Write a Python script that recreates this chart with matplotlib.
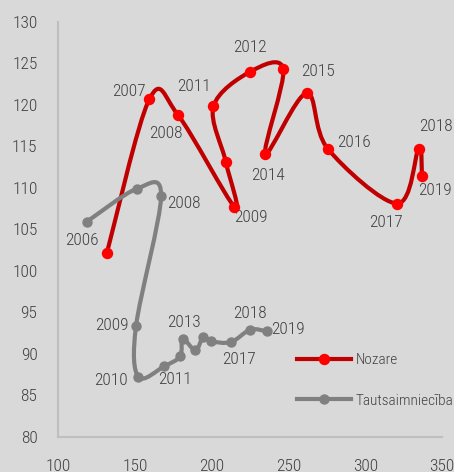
import os
import matplotlib.pyplot as plt
import matplotlib.font_manager as fm
from matplotlib.path import Path
from matplotlib.patches import PathPatch
from matplotlib.lines import Line2D

# Data
years = [2006, 2007, 2008, 2009, 2010, 2011, 2012,
         2013, 2014, 2015, 2016, 2017, 2018, 2019]

nozare_x = [131.6, 159.4, 177.9, 214.8, 209.2, 201.1, 225.2,
            246.6, 235.0, 261.8, 275.6, 320.9, 334.8, 337.0]
nozare_y = [102.1, 120.7, 118.8, 107.7, 113.1, 119.8, 124.0,
            124.3, 114.1, 121.4, 114.7, 108.1, 114.7, 111.4]

taut_x = [118.5, 151.3, 167.0, 150.7, 152.2, 169.1, 179.4,
          181.1, 189.4, 194.4, 199.6, 212.5, 225.1, 235.7]
taut_y = [105.9, 109.9, 109.0, 93.4, 87.2, 88.5, 89.7,
          91.8, 90.4, 92.0, 91.5, 91.4, 92.9, 92.7]

x_ticks = [100, 150, 200, 250, 300, 350]
y_ticks = [80, 85, 90, 95, 100, 105, 110, 115, 120, 125, 130]

# which years get a label, and where (offset in pixels)
nozare_labels = {2007: (-21, 7), 2008: (-12, -19), 2009: (16, -11),
                 2011: (-19, 20), 2012: (0, 24), 2014: (3, -22),
                 2015: (11, 22), 2016: (26, 6), 2017: (-11, -19),
                 2018: (17, 22), 2019: (13, -14)}
taut_labels = {2006: (-5, -19), 2008: (23, -7), 2009: (-24, 0),
               2010: (-27, -4), 2011: (11, -13), 2013: (1, 16),
               2017: (8, -17), 2018: (0, 16), 2019: (21, 2)}

bg = '#d9d9d9'
text_col = '#404040'


def pick_font():
    # look for a narrow / condensed sans font, the reference uses one
    wanted = ['robotocondensed-light', 'robotocondensed-regular',
              'opensanscondensed-light', 'opensans_condensed-light',
              'opensans-condensedlight', 'opensans_condensed-regular',
              'opensans-condensed', 'notosans-condensedlight',
              'notosans-condensed', 'liberationsansnarrow-regular',
              'dejavusanscondensed']
    files = {}
    for f in fm.fontManager.ttflist:
        key = os.path.basename(f.fname).lower().replace(' ', '')
        files[key] = f.fname
    for w in wanted:
        for key, path in files.items():
            stem = key.rsplit('.', 1)[0]
            if stem == w or stem.replace('[', '').startswith(w + '.'):
                return fm.FontProperties(fname=path), True
    for w in wanted:
        for key, path in files.items():
            if w in key and 'italic' not in key and 'bold' not in key:
                return fm.FontProperties(fname=path), True
    return fm.FontProperties(family='DejaVu Sans'), False


font, narrow = pick_font()
fs = 12.5 if narrow else 9.5
leg_fs = 11 if narrow else 8.5


def smooth_path(xs, ys):
    # Catmull-Rom style bezier, like the smoothed lines of office charts
    pts = list(zip(xs, ys))
    n = len(pts)
    verts = [pts[0]]
    codes = [Path.MOVETO]
    for i in range(n - 1):
        p0 = pts[i - 1] if i > 0 else pts[i]
        p1 = pts[i]
        p2 = pts[i + 1]
        p3 = pts[i + 2] if i + 2 < n else pts[i + 1]
        c1 = (p1[0] + (p2[0] - p0[0]) / 6, p1[1] + (p2[1] - p0[1]) / 6)
        c2 = (p2[0] - (p3[0] - p1[0]) / 6, p2[1] - (p3[1] - p1[1]) / 6)
        verts += [c1, c2, p2]
        codes += [Path.CURVE4] * 3
    return Path(verts, codes)


fig = plt.figure(figsize=(4.54, 4.72), dpi=100, facecolor=bg)
ax = fig.add_axes([0.1284, 0.0748, 0.845, 0.879], facecolor=bg)

series = [
    (nozare_x, nozare_y, '#c00000', '#ff0000', 10, nozare_labels, 'Nozare'),
    (taut_x, taut_y, '#808080', '#808080', 9, taut_labels, 'Tautsaimniecība'),
]

handles = []
for xs, ys, lc, mc, ms, labels, name in series:
    ax.add_patch(PathPatch(smooth_path(xs, ys), facecolor='none',
                           edgecolor=lc, lw=3.0, capstyle='round',
                           joinstyle='round', zorder=3))
    ax.plot(xs, ys, linestyle='none', marker='o', markersize=ms * 0.72,
            color=mc, zorder=4)
    for yr, (dx, dy) in labels.items():
        i = years.index(yr)
        ax.annotate(str(yr), (xs[i], ys[i]), xytext=(dx, dy),
                    textcoords='offset pixels', ha='center', va='center',
                    fontproperties=font, fontsize=fs, color=text_col)
    handles.append(Line2D([], [], color=lc, lw=3.0, marker='o',
                          markersize=ms * 0.72, markerfacecolor=mc,
                          markeredgecolor=mc, label=name))

ax.set_xlim(100, 350)
ax.set_ylim(80, 130)
ax.set_xticks(x_ticks)
ax.set_yticks(y_ticks)
ax.tick_params(length=0, labelcolor=text_col)
ax.tick_params(axis='y', pad=15)
ax.tick_params(axis='x', pad=16)
for lab in ax.get_xticklabels() + ax.get_yticklabels():
    lab.set_fontproperties(font)
    lab.set_fontsize(fs)

for side in ['top', 'right']:
    ax.spines[side].set_visible(False)
for side in ['left', 'bottom']:
    ax.spines[side].set_color('#bfbfbf')
    ax.spines[side].set_linewidth(1.5)

leg_prop = font.copy()
leg_prop.set_size(leg_fs)
leg = ax.legend(handles=handles, loc='upper left',
                bbox_to_anchor=(0.587, 0.235), frameon=False,
                handlelength=3.5, handletextpad=0.3, labelspacing=1.75,
                prop=leg_prop)
for t in leg.get_texts():
    t.set_color(text_col)

plt.savefig('out.png', dpi=100, facecolor=bg)
plt.close(fig)
